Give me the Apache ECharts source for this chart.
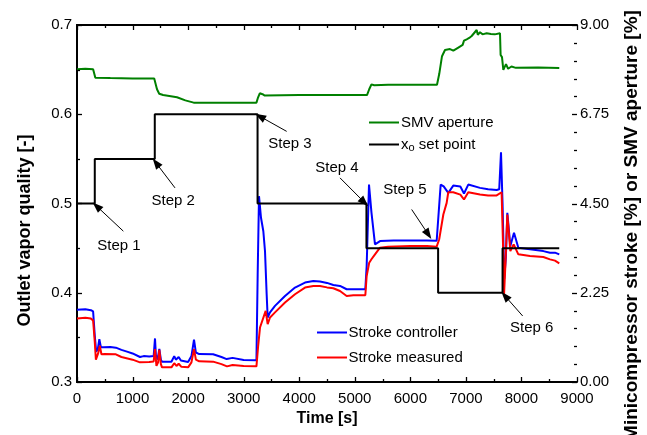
<!DOCTYPE html>
<html>
<head>
<meta charset="utf-8">
<script src="https://cdn.jsdelivr.net/npm/echarts@6/dist/echarts.min.js"></script>
<style>
  html, body { margin: 0; padding: 0; background: #fff; }
  #chart { width: 647px; height: 435px; }
</style>
</head>
<body>
<div id="chart"></div>
<script>
// SMV aperture [%] (right axis)
const tSMV = [0, 150, 290, 310, 330, 360, 600, 1000, 1390, 1410, 1440, 1480, 1550, 1800, 1950, 2100, 2600, 3230,
  3260, 3290, 3340, 3380, 4000, 5000, 5220, 5260, 5300, 5350, 5600, 6480, 6520, 6570, 6624, 6714, 6774, 6864,
  6942, 6966, 7014, 7060, 7104, 7134, 7194, 7215, 7254, 7300, 7374, 7450, 7520, 7614, 7625, 7650, 7674, 7722,
  7760, 7820, 7900, 8300, 8681];
const smv = [7.886, 7.898, 7.886, 7.853, 7.673, 7.661, 7.661, 7.65, 7.65, 7.605, 7.38, 7.268, 7.234, 7.178, 7.099, 7.043, 7.043, 7.043,
  7.178, 7.279, 7.256, 7.222, 7.234, 7.234, 7.234, 7.38, 7.504, 7.481, 7.493, 7.493, 7.763, 8.213, 8.37, 8.393, 8.354, 8.431,
  8.498, 8.606, 8.64, 8.674, 8.723, 8.764, 8.874, 8.753, 8.82, 8.764, 8.791, 8.775, 8.764, 8.791, 8.246, 8.19, 7.868, 8.012,
  7.898, 7.954, 7.92, 7.927, 7.916];

// Stroke controller output [%] (right axis)
const tCtrl = [0, 150, 250, 290, 320, 345, 375, 402, 430, 480, 600, 700, 800, 900, 1000, 1134, 1200, 1300, 1380, 1404,
  1420, 1450, 1482, 1510, 1530, 1700, 1750, 1780, 1830, 1870, 2000, 2060, 2106, 2140, 2200, 2450, 2600, 2694, 2800,
  3000, 3230, 3252, 3276, 3312, 3354, 3384, 3414, 3432, 3474, 3564, 3744, 3924, 4104, 4254, 4374, 4500, 4614, 4734,
  4854, 4974, 5190, 5214, 5256, 5300, 5364, 5454, 5700, 6000, 6300, 6474, 6546, 6600, 6683, 6773, 6900, 6966, 7043,
  7254, 7400, 7554, 7600, 7632, 7660, 7690, 7720, 7746, 7800, 7866, 7944, 8154, 8394, 8514, 8604, 8681];
const strokeCtrl = [1.823, 1.834, 1.811, 1.778, 1.17, 0.765, 0.833, 1.08, 0.878, 0.878, 0.88, 0.866, 0.81, 0.765, 0.72, 0.63, 0.653, 0.641, 0.653, 1.098,
  0.675, 0.563, 0.833, 0.563, 0.511, 0.511, 0.653, 0.563, 0.63, 0.54, 0.506, 0.653, 1.069, 0.743, 0.704, 0.698, 0.63, 0.578, 0.608,
  0.554, 0.551, 2.7, 4.685, 4.14, 3.8, 3.3, 2.21, 1.627, 1.755, 1.919, 2.169, 2.381, 2.507, 2.547, 2.531, 2.498, 2.446, 2.421,
  2.338, 2.338, 2.34, 2.925, 4.977, 4.275, 3.47, 3.553, 3.566, 3.566, 3.57, 3.56, 4.977, 4.93, 4.768, 4.952, 4.93, 4.752, 4.977,
  4.894, 4.86, 4.84, 4.86, 5.789, 4.5, 2.6, 3.15, 4.266, 3.427, 3.762, 3.386, 3.344, 3.3, 3.26, 3.26, 3.218];

// Stroke measured [%] (right axis)
const tMeas = [0, 150, 250, 290, 320, 340, 380, 410, 440, 500, 700, 800, 1000, 1134, 1300, 1380, 1404, 1430, 1460, 1482,
  1510, 1530, 1700, 1750, 1790, 1830, 1880, 2000, 2060, 2106, 2140, 2200, 2450, 2600, 2700, 2800, 3000, 3230, 3260,
  3294, 3396, 3432, 3474, 3564, 3744, 3924, 4104, 4254, 4374, 4500, 4614, 4734, 4854, 4974, 5190, 5214, 5260, 5300,
  5364, 5454, 5600, 6000, 6300, 6474, 6520, 6594, 6654, 6683, 6773, 6900, 6966, 7043, 7254, 7400, 7554, 7643, 7670,
  7686, 7710, 7746, 7800, 7860, 7944, 8154, 8394, 8514, 8604, 8681];
const strokeMeas = [1.602, 1.62, 1.598, 1.553, 1.013, 0.56, 0.72, 0.914, 0.698, 0.704, 0.698, 0.63, 0.563, 0.495, 0.506, 0.518, 0.83, 0.405, 0.495, 0.81,
  0.45, 0.369, 0.369, 0.473, 0.405, 0.461, 0.383, 0.369, 0.495, 0.83, 0.563, 0.52, 0.513, 0.45, 0.394, 0.428, 0.405, 0.394, 0.9,
  1.373, 1.793, 1.458, 1.627, 1.755, 2.003, 2.212, 2.381, 2.421, 2.421, 2.385, 2.363, 2.295, 2.169, 2.187, 2.187, 2.673, 3.008, 3.094,
  3.218, 3.386, 3.411, 3.431, 3.431, 3.411, 3.6, 4.223, 4.516, 4.784, 4.784, 4.725, 4.601, 4.784, 4.725, 4.703, 4.703, 4.784, 3.375,
  2.169, 2.925, 4.223, 3.301, 3.47, 3.218, 3.177, 3.15, 3.092, 3.06, 2.993];

// Outlet vapor quality set point (left axis), held until the next time
const tSet = [0, 320, 1400, 3250, 5210, 6500, 7660, 8680];
const setPoint = [0.5, 0.55, 0.6, 0.5, 0.45, 0.4, 0.45, 0.45];

// Step annotations, in (time, quality) units
const stepNames = ['Step 1', 'Step 2', 'Step 3', 'Step 4', 'Step 5', 'Step 6'];
const stepTextAt = [[756, 0.453], [1733, 0.5026], [3834, 0.567], [4680, 0.5398], [5904, 0.5156], [8184, 0.3611]];
const arrowFrom = [[834, 0.469], [1764, 0.5175], [3774, 0.5808], [4734, 0.5287], [6024, 0.4933], [8022, 0.374]];
const arrowTo = [[354, 0.497], [1422, 0.5455], [3294, 0.5975], [5171, 0.5014], [6323, 0.4654], [7704, 0.3964]];

// Axis ranges: major step and number of minor divisions per major step
const xTicks = { min: 0, max: 9000, interval: 1000 };
const leftTicks = { min: 0.3, max: 0.7, interval: 0.1 };
const rightTicks = { min: 0, max: 9, interval: 2.25 };
const xMinorSplit = 2, leftMinorSplit = 2, rightMinorSplit = 5;

const zip = (xs, ys) => xs.map((x, i) => [x, ys[i]]);
const FONT = '"Liberation Sans", Arial, sans-serif';
// horizontal bar used as the legend line icon
const LINE_ICON = 'path://M0,0L30,0L30,2L0,2Z';

function frame() {
  return {
    axisLine: { show: true, lineStyle: { color: '#000', width: 2 } },
    axisTick: { show: false },
    minorTick: { show: false },
    splitLine: { show: false }
  };
}

const chart = echarts.init(document.getElementById('chart'), null, { renderer: 'canvas' });

chart.setOption({
  animation: false,
  backgroundColor: '#fff',
  textStyle: { fontFamily: FONT },
  grid: { left: 77, right: 70, top: 25, bottom: 53, outerBoundsMode: 'none', containLabel: false },
  xAxis: [
    Object.assign({
      type: 'value', position: 'bottom',
      name: 'Time [s]', nameLocation: 'middle', nameGap: 24,
      nameTextStyle: { fontFamily: FONT, fontSize: 16, fontWeight: 'bold', color: '#000' },
      axisLabel: { color: '#000', fontSize: 15, fontFamily: FONT, margin: 9, formatter: v => String(v) }
    }, xTicks, frame()),
    Object.assign({
      type: 'value', position: 'top',
      axisLabel: { show: false }
    }, xTicks, frame())
  ],
  yAxis: [
    Object.assign({
      type: 'value', position: 'left',
      name: 'Outlet vapor quality [-]', nameLocation: 'middle', nameGap: 43, nameRotate: 90,
      nameTextStyle: { fontFamily: FONT, fontSize: 18, fontWeight: 'bold', color: '#000', padding: [0, 54, 0, 0] },
      axisLabel: { color: '#000', fontSize: 15, fontFamily: FONT, margin: 5, formatter: v => v.toFixed(1) }
    }, leftTicks, frame()),
    Object.assign({
      type: 'value', position: 'right',
      name: 'Minicompressor stroke [%] or SMV aperture [%]', nameLocation: 'middle', nameGap: 45, nameRotate: 90,
      nameTextStyle: { fontFamily: FONT, fontSize: 19, fontWeight: 'bold', color: '#000', padding: [0, 44, 0, 0] },
      axisLabel: { color: '#000', fontSize: 15, fontFamily: FONT, margin: 3, formatter: v => v.toFixed(2) }
    }, rightTicks, frame())
  ],
  legend: [
    {
      data: ['SMV aperture', 'xo set point'],
      orient: 'vertical', left: 369, top: 114, padding: 0,
      icon: LINE_ICON, itemWidth: 30, itemHeight: 2, itemGap: 5,
      formatter: n => n === 'xo set point' ? 'x{sub|o} set point' : n,
      textStyle: {
        color: '#000', fontSize: 15, fontFamily: FONT, lineHeight: 17, padding: [0, 0, 0, -3],
        rich: { sub: { fontSize: 11, fontFamily: FONT, color: '#000', padding: [7, 0, 0, 0] } }
      }
    },
    {
      data: ['Stroke controller', 'Stroke measured'],
      orient: 'vertical', left: 317, top: 324, padding: 0,
      icon: LINE_ICON, itemWidth: 31, itemHeight: 2, itemGap: 8,
      textStyle: { color: '#000', fontSize: 15, fontFamily: FONT, lineHeight: 17, padding: [0, 0, 0, -4] }
    }
  ],
  series: [
    {
      name: 'SMV aperture', type: 'line', xAxisIndex: 0, yAxisIndex: 1,
      data: zip(tSMV, smv), showSymbol: false,
      lineStyle: { color: '#008000', width: 2 }, itemStyle: { color: '#008000' }
    },
    {
      name: 'Stroke controller', type: 'line', xAxisIndex: 0, yAxisIndex: 1,
      data: zip(tCtrl, strokeCtrl), showSymbol: false,
      lineStyle: { color: '#0000ff', width: 2 }, itemStyle: { color: '#0000ff' }
    },
    {
      name: 'Stroke measured', type: 'line', xAxisIndex: 0, yAxisIndex: 1,
      data: zip(tMeas, strokeMeas), showSymbol: false,
      lineStyle: { color: '#ff0000', width: 2 }, itemStyle: { color: '#ff0000' }
    },
    {
      name: 'xo set point', type: 'line', xAxisIndex: 0, yAxisIndex: 0,
      step: 'end', data: zip(tSet, setPoint), showSymbol: false,
      lineStyle: { color: '#000', width: 2 }, itemStyle: { color: '#000' },
      markLine: {
        silent: true, animation: false,
        symbol: ['none', 'triangle'], symbolSize: [8, 11],
        lineStyle: { color: '#000', width: 1, type: 'solid' },
        itemStyle: { color: '#000' },
        label: { show: false },
        data: arrowFrom.map((p, i) => [
          { coord: p, symbol: 'none' },
          { coord: arrowTo[i], symbol: 'triangle', symbolSize: [8, 11] }
        ])
      },
      markPoint: {
        silent: true, animation: false,
        symbol: 'circle', symbolSize: 0,
        label: { show: true, position: 'inside', color: '#000', fontSize: 15, fontFamily: FONT, formatter: p => p.name },
        data: stepTextAt.map((p, i) => ({ name: stepNames[i], coord: p }))
      }
    }
  ]
});

// Inward major/minor ticks on all four sides, placed through the axes' own scales
function tickList(range, minorSplit) {
  const step = range.interval / minorSplit;
  const n = Math.round((range.max - range.min) / step);
  const out = [];
  for (let k = 0; k <= n; k++) out.push({ v: range.min + k * step, major: k % minorSplit === 0 });
  return out;
}
const ok = p => Array.isArray(p) && isFinite(p[0]) && isFinite(p[1]);
// the SMV series lives on the bottom time axis and the right axis
let p0 = chart.convertToPixel({ seriesIndex: 0 }, [xTicks.min, rightTicks.min]);
let p1 = chart.convertToPixel({ seriesIndex: 0 }, [xTicks.max, rightTicks.max]);
if (!ok(p0) || !ok(p1)) {
  const r = chart.getModel().getComponent('grid', 0).coordinateSystem.getRect();
  p0 = [r.x, r.y + r.height];
  p1 = [r.x + r.width, r.y];
}
const xL = p0[0], yB = p0[1], xR = p1[0], yT = p1[1];
const xPix = v => xL + (v - xTicks.min) / (xTicks.max - xTicks.min) * (xR - xL);
const yPix = (range, v) => yB + (v - range.min) / (range.max - range.min) * (yT - yB);

const MAJOR = 5, MINOR = 3;
const marks = [];
const seg = (x1, y1, x2, y2) => marks.push({
  type: 'line', silent: true, z: 100,
  shape: { x1: x1, y1: y1, x2: x2, y2: y2 },
  style: { stroke: '#000', lineWidth: 1.3 }
});

tickList(xTicks, xMinorSplit).forEach(t => {
  const x = Math.round(xPix(t.v)) + 0.5;
  const len = t.major ? MAJOR : MINOR;
  seg(x, yB, x, yB - len);
  seg(x, yT, x, yT + len);
});
tickList(leftTicks, leftMinorSplit).forEach(t => {
  const y = Math.round(yPix(leftTicks, t.v)) + 0.5;
  seg(xL, y, xL + (t.major ? MAJOR : MINOR), y);
});
tickList(rightTicks, rightMinorSplit).forEach(t => {
  const y = Math.round(yPix(rightTicks, t.v)) + 0.5;
  seg(xR, y, xR - (t.major ? MAJOR : MINOR), y);
});

chart.setOption({ graphic: { elements: marks } });
</script>
</body>
</html>
